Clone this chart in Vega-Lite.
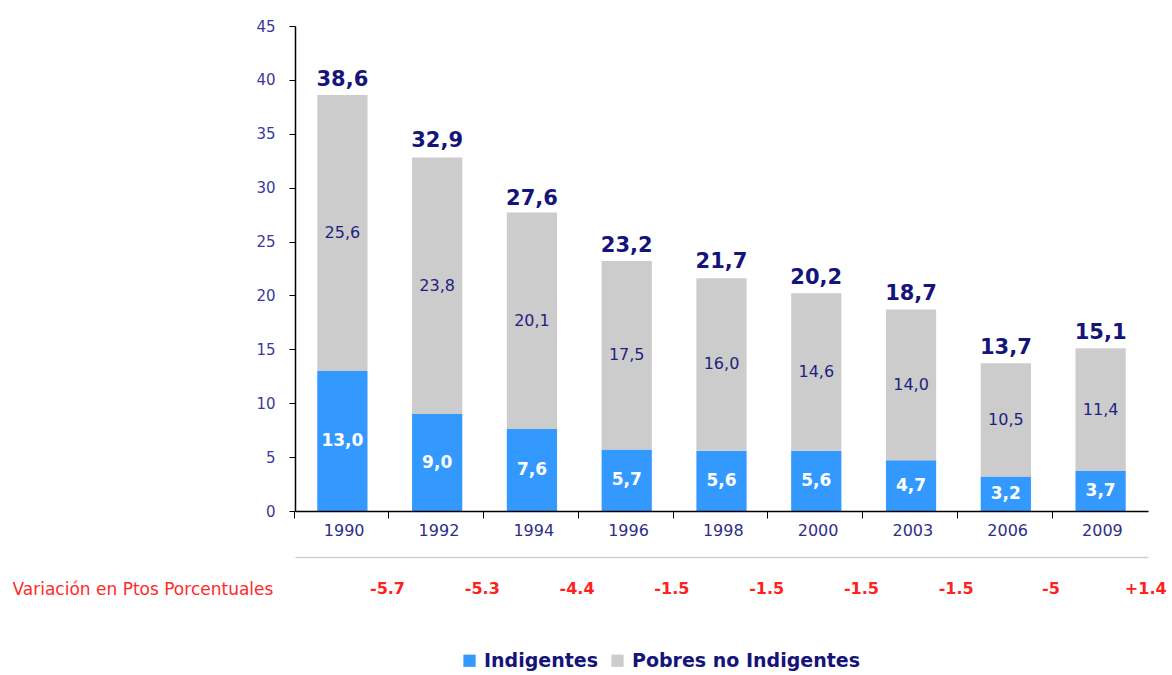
{
  "$schema": "https://vega.github.io/schema/vega-lite/v6.json",
  "width": 853,
  "height": 485,
  "autosize": {"type": "none"},
  "padding": {"left": 295, "top": 26, "right": 24, "bottom": 164},
  "background": "white",
  "datasets": {
    "barras": [
      {"anio": "1990", "categoria": "Indigentes", "valor": 13.0},
      {"anio": "1990", "categoria": "Pobres no Indigentes", "valor": 25.6},
      {"anio": "1992", "categoria": "Indigentes", "valor": 9.0},
      {"anio": "1992", "categoria": "Pobres no Indigentes", "valor": 23.8},
      {"anio": "1994", "categoria": "Indigentes", "valor": 7.6},
      {"anio": "1994", "categoria": "Pobres no Indigentes", "valor": 20.1},
      {"anio": "1996", "categoria": "Indigentes", "valor": 5.7},
      {"anio": "1996", "categoria": "Pobres no Indigentes", "valor": 17.5},
      {"anio": "1998", "categoria": "Indigentes", "valor": 5.6},
      {"anio": "1998", "categoria": "Pobres no Indigentes", "valor": 16.0},
      {"anio": "2000", "categoria": "Indigentes", "valor": 5.6},
      {"anio": "2000", "categoria": "Pobres no Indigentes", "valor": 14.6},
      {"anio": "2003", "categoria": "Indigentes", "valor": 4.7},
      {"anio": "2003", "categoria": "Pobres no Indigentes", "valor": 14.0},
      {"anio": "2006", "categoria": "Indigentes", "valor": 3.2},
      {"anio": "2006", "categoria": "Pobres no Indigentes", "valor": 10.5},
      {"anio": "2009", "categoria": "Indigentes", "valor": 3.7},
      {"anio": "2009", "categoria": "Pobres no Indigentes", "valor": 11.4}
    ],
    "totales": [
      {"anio": "1990", "total": 38.6},
      {"anio": "1992", "total": 32.9},
      {"anio": "1994", "total": 27.6},
      {"anio": "1996", "total": 23.2},
      {"anio": "1998", "total": 21.7},
      {"anio": "2000", "total": 20.2},
      {"anio": "2003", "total": 18.7},
      {"anio": "2006", "total": 13.7},
      {"anio": "2009", "total": 15.1}
    ],
    "variacion": [
      {"anio": "1990", "variacion": "-5.7"},
      {"anio": "1992", "variacion": "-5.3"},
      {"anio": "1994", "variacion": "-4.4"},
      {"anio": "1996", "variacion": "-1.5"},
      {"anio": "1998", "variacion": "-1.5"},
      {"anio": "2000", "variacion": "-1.5"},
      {"anio": "2003", "variacion": "-1.5"},
      {"anio": "2006", "variacion": "-5"},
      {"anio": "2009", "variacion": "+1.4"}
    ]
  },
  "config": {
    "view": {"stroke": null},
    "font": "DejaVu Sans",
    "locale": {"number": {"decimal": ",", "thousands": ".", "grouping": [3], "currency": ["", ""]}}
  },
  "resolve": {"axis": {"x": "independent", "y": "independent"}},
  "layer": [
    {
      "data": {"name": "barras"},
      "mark": {"type": "bar"},
      "encoding": {
        "x": {
          "field": "anio", "type": "ordinal",
          "scale": {"paddingInner": 0.47, "paddingOuter": 0.235},
          "axis": {
            "title": null, "labelAngle": 0, "domainColor": "#000000", "tickColor": "#000000",
            "bandPosition": 0, "tickOffset": -23.7, "labelOffset": 25,
            "tickSize": 7, "labelColor": "#2e2e8a", "labelFontSize": 16,
            "labelPadding": 4, "domainWidth": 1.5, "zindex": 1
          }
        },
        "y": {
          "field": "valor", "type": "quantitative",
          "scale": {"domain": [0, 45], "nice": false},
          "axis": {
            "values": [0, 5, 10, 15, 20, 25, 30, 35, 40, 45],
            "grid": false, "domainColor": "#000000", "tickColor": "#000000", "tickSize": 6,
            "labelColor": "#3a3a9e", "labelFontSize": 15, "labelPadding": 14, "domainWidth": 1.5,
            "title": "Variación en Ptos Porcentuales",
            "titleAngle": 0, "titleX": -283, "titleY": 563, "titleAlign": "left",
            "titleBaseline": "middle", "titleColor": "#ff2a2a", "titleFontWeight": "normal",
            "titleFontSize": 17
          }
        },
        "color": {
          "field": "categoria", "type": "nominal",
          "scale": {"domain": ["Indigentes", "Pobres no Indigentes"], "range": ["#3399ff", "#cccccc"]},
          "legend": {
            "title": null, "orient": "none", "direction": "horizontal",
            "legendX": 165, "legendY": 625, "symbolType": "square", "symbolSize": 150,
            "symbolStrokeWidth": 0, "labelFontSize": 19, "labelFontWeight": "bold",
            "labelColor": "#14147a", "columnPadding": 10, "labelOffset": 5, "labelLimit": 400
          }
        },
        "order": {"field": "categoria", "sort": "ascending"}
      }
    },
    {
      "data": {"name": "barras"},
      "transform": [
        {"stack": "valor", "groupby": ["anio"], "sort": [{"field": "categoria", "order": "ascending"}], "as": ["y0", "y1"]},
        {"calculate": "(datum.y0 + datum.y1) / 2", "as": "ymid"},
        {"filter": "datum.categoria == 'Indigentes'"}
      ],
      "mark": {"type": "text", "color": "white", "fontWeight": "bold", "fontSize": 17, "baseline": "middle"},
      "encoding": {
        "x": {"field": "anio", "type": "ordinal", "axis": null},
        "y": {"field": "ymid", "type": "quantitative", "axis": null},
        "text": {"field": "valor", "type": "quantitative", "format": ".1f"}
      }
    },
    {
      "data": {"name": "barras"},
      "transform": [
        {"stack": "valor", "groupby": ["anio"], "sort": [{"field": "categoria", "order": "ascending"}], "as": ["y0", "y1"]},
        {"calculate": "(datum.y0 + datum.y1) / 2", "as": "ymid"},
        {"filter": "datum.categoria == 'Pobres no Indigentes'"}
      ],
      "mark": {"type": "text", "color": "#1f1f7f", "fontSize": 16, "baseline": "middle"},
      "encoding": {
        "x": {"field": "anio", "type": "ordinal", "axis": null},
        "y": {"field": "ymid", "type": "quantitative", "axis": null},
        "text": {"field": "valor", "type": "quantitative", "format": ".1f"}
      }
    },
    {
      "data": {"name": "totales"},
      "mark": {"type": "text", "color": "#14147a", "fontWeight": "bold", "fontSize": 21, "baseline": "bottom", "dy": -5},
      "encoding": {
        "x": {"field": "anio", "type": "ordinal", "axis": null},
        "y": {"field": "total", "type": "quantitative", "axis": null},
        "text": {"field": "total", "type": "quantitative", "format": ".1f"}
      }
    },
    {
      "data": {"name": "variacion"},
      "mark": {"type": "text", "color": "#ff2020", "fontWeight": "bold", "fontSize": 16, "baseline": "middle", "dy": 78, "dx": 20},
      "encoding": {
        "x": {
          "field": "anio", "type": "ordinal", "bandPosition": 1,
          "axis": {"orient": "bottom", "title": null, "labels": false, "ticks": false, "offset": 46, "domainColor": "#d0d0d0", "domainWidth": 1.5}
        },
        "y": {"datum": 0, "type": "quantitative", "axis": null},
        "text": {"field": "variacion", "type": "nominal"}
      }
    }
  ]
}
